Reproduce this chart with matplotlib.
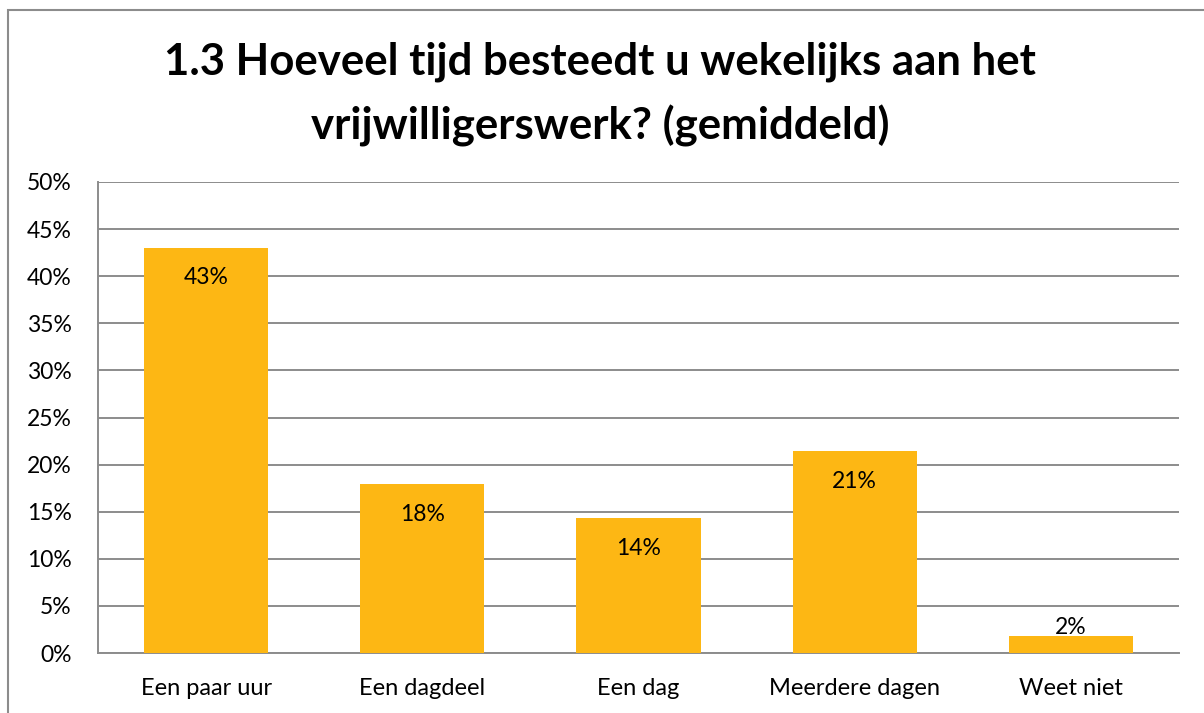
import matplotlib.pyplot as plt
from matplotlib.patches import Rectangle

categories = ["Een paar uur", "Een dagdeel", "Een dag", "Meerdere dagen", "Weet niet"]
values = [43.0, 17.9, 14.3, 21.4, 1.8]
yticks = [0, 5, 10, 15, 20, 25, 30, 35, 40, 45, 50]
title = "1.3 Hoeveel tijd besteedt u wekelijks aan het\nvrijwilligerswerk? (gemiddeld)"

plt.rcParams['font.family'] = ['Lato', 'DejaVu Sans']

fig = plt.figure(figsize=(12.04, 7.13), dpi=100)
ax = fig.add_axes([98/1204, 60/713, (1179-98)/1204, (653-182)/713])

x = range(len(categories))
bars = ax.bar(x, values, width=0.575, color="#FDB714", zorder=3)

for b, v in zip(bars, values):
    # labels sit inside the top of the bar, small bars get them above
    if v > 5:
        off = -21.5
    else:
        off = 6.5
    ax.annotate(f"{v:.0f}%", (b.get_x() + b.get_width() / 2, v),
                xytext=(0, off), textcoords="offset points",
                ha="center", va="center", fontsize=16.5, zorder=4)

ax.set_xlim(-0.5, len(categories) - 0.5)
ax.set_ylim(0, 50)
ax.set_yticks(yticks)
ax.set_yticklabels([f"{t}%" for t in yticks], fontsize=16.5)
ax.set_xticks(list(x))
ax.set_xticklabels(categories, fontsize=17)
ax.tick_params(axis="y", length=0, pad=19)
ax.tick_params(axis="x", length=0, pad=18)
ax.grid(axis="y", color="#8c8c8c", linewidth=1.4, zorder=0)
for s in ["top", "right"]:
    ax.spines[s].set_visible(False)
ax.spines["left"].set_color("#8c8c8c")
ax.spines["left"].set_linewidth(1.4)
ax.spines["bottom"].set_color("#8c8c8c")
ax.spines["bottom"].set_linewidth(1.4)

fig.text(600/1204, 1 - 94/713, title, ha="center", va="center",
         fontsize=31.5, fontweight="bold", linespacing=1.66)

fig.patches.append(Rectangle((8/1204, -0.05), 1.0, 1.05 - 10/713,
                             transform=fig.transFigure, fill=False,
                             edgecolor="#8c8c8c", linewidth=1.5))

fig.savefig("out.png", dpi=100)
